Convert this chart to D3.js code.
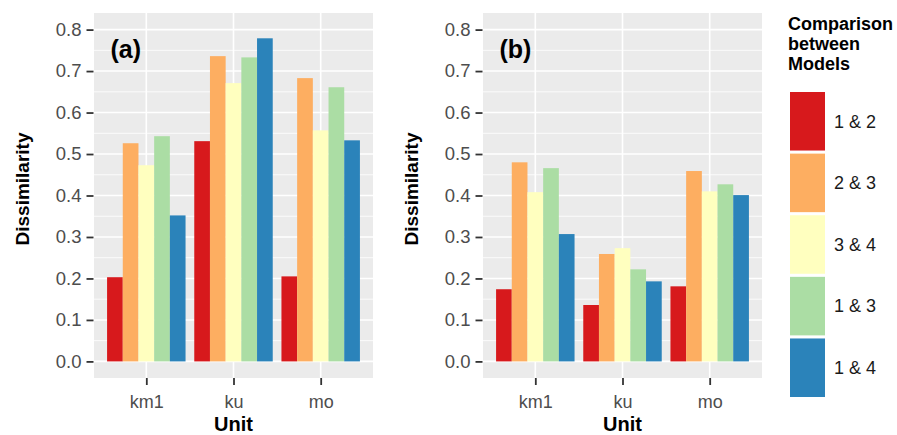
<!DOCTYPE html>
<html><head><meta charset="utf-8">
<script src="https://cdn.jsdelivr.net/npm/d3@7"></script>
<style>body{margin:0;background:#fff}svg{display:block}text{font-family:"Liberation Sans",Arial,sans-serif}</style>
</head><body>
<svg id="c" width="897" height="435"></svg>
<script>
const units = ["km1","ku","mo"];
const comparisons = ["1 & 2","2 & 3","3 & 4","1 & 3","1 & 4"];
const colors = ["#D7191C","#FDAE61","#FFFFBF","#ABDDA4","#2B83BA"];
const yTicks = [0,0.1,0.2,0.3,0.4,0.5,0.6,0.7,0.8];
// values per comparison, per unit (km1, ku, mo)
const valuesA = {
  "1 & 2":[0.203,0.531,0.205],
  "2 & 3":[0.526,0.736,0.683],
  "3 & 4":[0.473,0.671,0.557],
  "1 & 3":[0.543,0.733,0.661],
  "1 & 4":[0.352,0.779,0.533]
};
const valuesB = {
  "1 & 2":[0.174,0.136,0.181],
  "2 & 3":[0.480,0.259,0.459],
  "3 & 4":[0.408,0.273,0.410],
  "1 & 3":[0.466,0.222,0.427],
  "1 & 4":[0.307,0.193,0.401]
};
const panels = [{label:"(a)",vals:valuesA,x0:94,x1:373},{label:"(b)",vals:valuesB,x0:483,x1:762}];

const svg = d3.select("#c");
const pTop=13,pBottom=378;
const y = d3.scaleLinear().domain([-0.04,0.84]).range([pBottom,pTop]);

panels.forEach(p=>{
  const g = svg.append("g");
  const xc = d3.scalePoint().domain(units).range([p.x0+(p.x1-p.x0)*0.6/3.2, p.x1-(p.x1-p.x0)*0.6/3.2]);
  const step = (p.x1-p.x0)/3.2;
  const bw = step*0.9;
  const inner = d3.scaleBand().domain(comparisons).range([-bw/2,bw/2]).padding(0);
  g.append("rect").attr("x",p.x0).attr("y",pTop).attr("width",p.x1-p.x0).attr("height",pBottom-pTop).attr("fill","#EBEBEB");
  d3.range(0.05,0.85,0.1).forEach(v=>{
    g.append("line").attr("x1",p.x0).attr("x2",p.x1).attr("y1",y(v)).attr("y2",y(v)).attr("stroke","#fff").attr("stroke-width",0.8);
  });
  yTicks.forEach(v=>{
    g.append("line").attr("x1",p.x0).attr("x2",p.x1).attr("y1",y(v)).attr("y2",y(v)).attr("stroke","#fff").attr("stroke-width",1.6);
  });
  units.forEach(u=>{
    g.append("line").attr("x1",xc(u)).attr("x2",xc(u)).attr("y1",pTop).attr("y2",pBottom).attr("stroke","#fff").attr("stroke-width",1.6);
  });
  comparisons.forEach((c,ci)=>{
    units.forEach((u,ui)=>{
      const v = p.vals[c][ui];
      g.append("rect").attr("x",xc(u)+inner(c)).attr("width",inner.bandwidth())
        .attr("y",y(v)).attr("height",y(0)-y(v)).attr("fill",colors[ci]);
    });
  });
  const ya = d3.axisLeft(y).tickValues(yTicks).tickFormat(d3.format(".1f")).tickSize(7).tickPadding(5);
  const yg = g.append("g").attr("transform",`translate(${p.x0-0.5},0)`).call(ya);
  yg.select(".domain").remove();
  yg.selectAll(".tick line").attr("stroke","#333").attr("stroke-width",1.8);
  yg.selectAll(".tick text").attr("fill","#4D4D4D").style("font-size","18.5px");
  const xa = d3.axisBottom(xc).tickSize(7).tickPadding(10);
  const xg = g.append("g").attr("transform",`translate(0,${pBottom})`).call(xa);
  xg.select(".domain").remove();
  xg.selectAll(".tick line").attr("stroke","#333").attr("stroke-width",1.8);
  xg.selectAll(".tick text").attr("fill","#4D4D4D").style("font-size","18px");
  g.append("text").attr("x",(p.x0+p.x1)/2).attr("y",430.5).attr("text-anchor","middle")
    .style("font-size","20px").style("font-weight","bold").text("Unit");
  g.append("text").attr("transform",`translate(${p.x0-65},189) rotate(-90)`).attr("text-anchor","middle")
    .style("font-size","19px").style("font-weight","bold").text("Dissimilarity");
  g.append("text").attr("x",p.x0+16.5).attr("y",58).style("font-size","25px").style("font-weight","bold").text(p.label);
});

const lg = svg.append("g");
["Comparison","between","Models"].forEach((t,i)=>{
  lg.append("text").attr("x",788).attr("y",29.5+i*20.3).style("font-size","18px").style("font-weight","bold").text(t);
});
const keyY = d3.scaleBand().domain(comparisons).range([92,397]).paddingInner(0.05);
comparisons.forEach((c,i)=>{
  lg.append("rect").attr("x",790).attr("y",keyY(c)).attr("width",35).attr("height",keyY.bandwidth()).attr("fill",colors[i]);
  lg.append("text").attr("x",834).attr("y",keyY(c)+keyY.bandwidth()/2).attr("dy","0.35em")
    .style("font-size","18px").attr("fill","#1a1a1a").text(c);
});
</script>
</body></html>
